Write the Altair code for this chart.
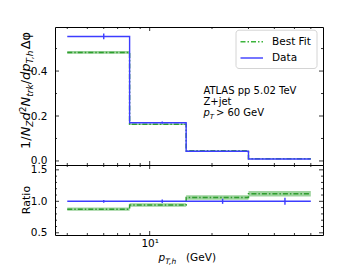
import altair as alt
import pandas as pd

# ---------------- data ----------------
bin_edges = [4, 8, 15, 30, 60]
bin_centers = [6, 11.5, 22.5, 45]
data_vals = [0.554, 0.170, 0.043, 0.009]
data_err = [0.013, 0.005, 0.002, 0.001]
fit_vals = [0.483, 0.163, 0.045, 0.010]
fit_err = [0.006, 0.003, 0.0012, 0.0006]
ratio_data = [1.0, 1.0, 1.0, 1.0]
ratio_data_err = [0.022, 0.028, 0.04, 0.055]
ratio_fit = [0.876, 0.94, 1.06, 1.12]
ratio_fit_err = [0.027, 0.028, 0.035, 0.045]

x_major_ticks = [10]
x_minor_ticks = [4, 5, 6, 7, 8, 9, 20, 30, 40, 50, 60]
top_y_major = [0.0, 0.2, 0.4]
top_y_minor = [0.1, 0.3, 0.5]
rat_y_major = [0.5, 1.0, 1.5]
rat_y_minor = [0.6, 0.7, 0.8, 0.9, 1.1, 1.2, 1.3, 1.4]

# ---------------- style ----------------
W, H1, H2 = 268, 138, 70
FONT = "DejaVu Sans"
BLUE = "#3c3cff"
GREEN_LINE = "#2f9e2f"
GREEN_BAND = "#4cae4c"
DASHDOT = [5, 2, 1.5, 2]

xscale = alt.Scale(type="log", domain=[3.49, 68.7], nice=False)
yscale_top = alt.Scale(domain=[-0.018, 0.596], nice=False, zero=False)
yscale_rat = alt.Scale(domain=[0.465, 1.577], nice=False, zero=False)

axis_common = dict(grid=False, domain=False, ticks=False, labelFont=FONT,
                   labelFontSize=10.5, labelColor="black", title=None,
                   labelFlush=False)
x_axis_top = alt.Axis(values=[10], labels=False, **axis_common)
x_axis_bot = alt.Axis(values=[10], labelExpr="'10\u00b9'", labelPadding=3, **axis_common)
y_axis_top = alt.Axis(values=top_y_major, format=".1f", labelPadding=8, **axis_common)
y_axis_rat = alt.Axis(values=rat_y_major, format=".1f", labelPadding=8, **axis_common)


def step_df(vals):
    return pd.DataFrame({"x": bin_edges, "y": list(vals) + [vals[-1]]})


def bins_df(vals, errs):
    return pd.DataFrame({
        "x": bin_edges[:-1], "x2": bin_edges[1:], "c": bin_centers,
        "lo": [v - e for v, e in zip(vals, errs)],
        "hi": [v + e for v, e in zip(vals, errs)],
    })


def panel(dvals, derr, fvals, ferr, yscale, xaxis, yaxis, H, ymaj, ymin):
    X = lambda f: alt.X(f, type="quantitative", scale=xscale, axis=xaxis)
    Y = lambda f: alt.Y(f, type="quantitative", scale=yscale, axis=yaxis)
    band = alt.Chart(bins_df(fvals, ferr)).mark_rect(
        color=GREEN_BAND, opacity=0.55).encode(
        x=X("x"), x2="x2", y=Y("lo"), y2="hi")
    fit_line = alt.Chart(step_df(fvals)).mark_line(
        interpolate="step-after", color=GREEN_LINE, strokeWidth=1.5,
        strokeDash=DASHDOT).encode(x=X("x"), y=Y("y"))
    data_line = alt.Chart(step_df(dvals)).mark_line(
        interpolate="step-after", color=BLUE, strokeWidth=1.4).encode(
        x=X("x"), y=Y("y"))
    err = alt.Chart(bins_df(dvals, derr)).mark_rule(
        color=BLUE, strokeWidth=1.4).encode(x=X("c"), y=Y("lo"), y2="hi")
    layers = [band, fit_line, data_line, err]
    # inward ticks
    for vals, L in ((x_major_ticks, 4), (x_minor_ticks, 2)):
        d = pd.DataFrame({"v": vals})
        layers.append(alt.Chart(d).mark_rule(color="black", strokeWidth=0.8).encode(
            x=X("v"), y=alt.value(H), y2=alt.value(H - L)))
        layers.append(alt.Chart(d).mark_rule(color="black", strokeWidth=0.8).encode(
            x=X("v"), y=alt.value(0), y2=alt.value(L)))
    for vals, L in ((ymaj, 4), (ymin, 2)):
        d = pd.DataFrame({"v": vals})
        layers.append(alt.Chart(d).mark_rule(color="black", strokeWidth=0.8).encode(
            y=Y("v"), x=alt.value(0), x2=alt.value(L)))
        layers.append(alt.Chart(d).mark_rule(color="black", strokeWidth=0.8).encode(
            y=Y("v"), x=alt.value(W), x2=alt.value(W - L)))
    return layers


one = pd.DataFrame({"a": [0]})


def txt(s, x, y, size, style="normal", angle=0, align="left", baseline="alphabetic"):
    kw = dict(text=s, font=FONT, fontSize=size, fontStyle=style, color="black",
              align=align, baseline=baseline)
    if angle:
        kw["angle"] = angle
    return alt.Chart(one).mark_text(**kw).encode(x=alt.value(x), y=alt.value(y))


# ---------------- top panel ----------------
top_layers = panel(data_vals, data_err, fit_vals, fit_err, yscale_top,
                   x_axis_top, y_axis_top, H1, top_y_major, top_y_minor)

# y-axis title (rotated, built from pieces: base / sub / superscript)
segs = [("1/", 13, "b", "normal", 0.973), ("N", 13, "b", "italic", 0.748),
        ("Z", 9, "s", "italic", 0.685), ("d", 13, "b", "italic", 0.635),
        ("2", 9, "u", "normal", 0.636), ("N", 13, "b", "italic", 0.748),
        ("trk", 9, "s", "italic", 1.382), ("/", 13, "b", "normal", 0.337),
        ("dp", 13, "b", "italic", 1.27), ("T,h", 9, "s", "italic", 1.563),
        ("\u0394\u03c6", 13, "b", "normal", 1.384)]
bx = -24.8
ypos = 122.0
for s, size, kind, style, em in segs:
    xx = bx + (3 if kind == "s" else (-4.5 if kind == "u" else 0))
    top_layers.append(txt(s, xx, ypos, size, style, angle=270))
    ypos -= em * size

# annotation
ax0 = 148.4
top_layers += [
    txt("ATLAS pp 5.02 TeV", ax0, 67, 10),
    txt("Z+jet", ax0, 78.2, 10),
    txt("p", ax0, 89.4, 10, "italic"),
    txt("T", ax0 + 6.4, 91.5, 7, "italic"),
    txt("> 60 GeV", ax0 + 12.5, 89.4, 10),
]

# legend
lg = alt.Chart(one).mark_rect(fill="white", stroke="#d0d0d0", strokeWidth=1,
                              cornerRadius=3, opacity=0.9).encode(
    x=alt.value(181), x2=alt.value(262), y=alt.value(3.2), y2=alt.value(41.5))
lg_fit = alt.Chart(one).mark_rule(color="#3cb43c", strokeWidth=1.4,
                                  strokeDash=DASHDOT).encode(
    x=alt.value(185.5), x2=alt.value(208), y=alt.value(14.7))
lg_dat = alt.Chart(one).mark_rule(color=BLUE, strokeWidth=1.4).encode(
    x=alt.value(185.5), x2=alt.value(208), y=alt.value(31))
top_layers += [lg, lg_fit, lg_dat,
               txt("Best Fit", 217, 14.7, 10.5, baseline="middle"),
               txt("Data", 217, 31, 10.5, baseline="middle")]

top = alt.layer(*top_layers).properties(width=W, height=H1)

# ---------------- ratio panel ----------------
bot_layers = panel(ratio_data, ratio_data_err, ratio_fit, ratio_fit_err, yscale_rat,
                   x_axis_bot, y_axis_rat, H2, rat_y_major, rat_y_minor)
bot_layers += [
    txt("Ratio", -24.8, H2 / 2, 11, angle=270, align="center"),
    txt("p", 103.4, 96, 10.5, "italic"),
    txt("T,h", 110.3, 98.5, 7.5, "italic"),
    txt("(GeV)", 131, 96, 10.5),
]
bot = alt.layer(*bot_layers).properties(width=W, height=H2)

chart = alt.vconcat(top, bot, spacing=0, bounds="flush").properties(
    padding={"left": 10, "top": 18, "right": 5, "bottom": 0}
).configure_view(stroke="black", strokeWidth=1)

chart.save("out.html", embed_options={"renderer": "svg", "actions": False})
